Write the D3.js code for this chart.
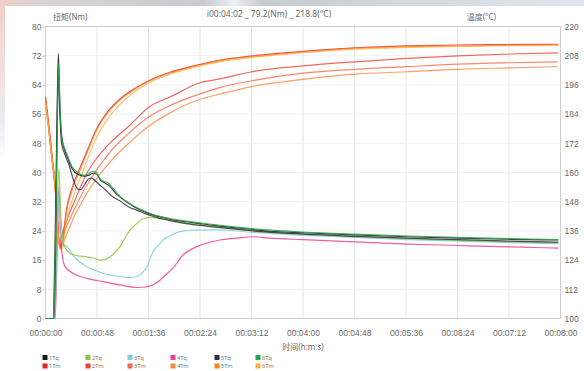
<!DOCTYPE html>
<html>
<head>
<meta charset="utf-8">
<script src="https://cdn.jsdelivr.net/npm/d3@7/dist/d3.min.js"></script>
<style>
  html, body { margin: 0; padding: 0; background: #fff; }
  svg { display: block; font-family: "Noto Sans", "Noto Sans CJK SC", sans-serif; }
</style>
</head>
<body>
<svg id="chart" width="584" height="371"></svg>
<script>
// Time axis (seconds) and tick labels
const timeTicks = [0, 48, 96, 144, 192, 240, 288, 336, 384, 432, 480];
const torqueTicks = [0, 8, 16, 24, 32, 40, 48, 56, 64, 72, 80];
const tempTicks = [100, 112, 124, 136, 148, 160, 172, 184, 196, 208, 220];

// Torque series, [seconds, Nm]
const tq1 = [[0,0],[7,0],[9,22],[11,60],[12,72.5],[13,62],[15,50],[18,46],[20,44.5],[25,41],[30,39.5],[36,39],[40,39.2],[44,39.8],[48,39.5],[51,38],[56,37],[60,36.2],[65,34.5],[69,33.4],[78,31.5],[85,30.2],[94,29],[100,28.4],[110,27.6],[116,27.2],[131,26.5],[144,26],[163,25.3],[193,24.4],[210,23.9],[240,23.5],[288,22.9],[337,22.4],[385,22],[433,21.7],[478,21.5]];
const tq2 = [[0,0],[8,0],[10,20],[12.5,41],[14,30],[16.3,21],[19,19],[22.8,17.9],[30,17.2],[38.7,16.9],[45,16.5],[50.8,16],[56,16.2],[60.1,16.9],[65,18.2],[69.4,19.7],[74,22],[78.8,24.2],[85,26],[90,27.2],[97,27.7],[110,27.2],[131,26.2],[163,25],[193,24.1],[240,23.2],[288,22.5],[337,21.9],[385,21.4],[433,21],[478,20.7]];
const tq3 = [[0,0],[8.5,0],[10.5,18],[12,34],[13.5,24],[16.3,20.5],[20,19.7],[28,16.5],[38.7,14.2],[46,13.2],[53.6,12.4],[60,11.9],[69.4,11.5],[78.8,11.2],[85.3,11.5],[90,12.5],[94.6,14.2],[100.2,18.3],[106,20.3],[109.5,21.5],[116,22.6],[125.3,23.8],[141,24.2],[160,24.3],[193,23.6],[240,22.8],[288,22.2],[337,21.6],[385,21.2],[433,20.8],[478,20.5]];
const tq4 = [[0,0],[9,0],[11,20],[12.6,36],[14,22],[18.2,14.2],[25.6,12.4],[38.7,11],[53.6,10.1],[69.4,9.2],[85.3,8.5],[94.6,8.7],[106.7,10.5],[112,12],[118.8,13.8],[128.2,17.4],[141.2,19.7],[162.6,21.5],[178.5,22],[193.4,22.4],[209,22],[240,21.6],[288,21],[337,20.4],[385,20],[433,19.6],[478,19.3]];
const tq5 = [[0,0],[8,0],[10,30],[11.8,68],[12.8,60],[15,48],[18,45],[22,42],[26,38],[30,35.5],[33,35.3],[36,36.5],[40,38.2],[43,38.5],[46,37.8],[51,36.5],[56,35.2],[62,33.5],[69,32.3],[78,30.5],[85,29.7],[94,28.6],[100,28],[116,26.8],[131,26],[144,25.5],[163,24.9],[193,24],[240,23.1],[288,22.5],[337,22],[385,21.6],[433,21.2],[478,20.9]];
const tq6 = [[0,0],[7.5,0],[9.5,25],[11.5,62],[12.3,70],[13.5,58],[15.5,49],[18,46.5],[20,45],[25,41.5],[30,40],[36,39.2],[40,39.6],[44,40.3],[47,40.2],[50,38.6],[54,37.6],[58,37.2],[62,36],[69,33.6],[78,31.6],[85,30.4],[94,29.2],[100,28.5],[110,27.8],[116,27.4],[131,26.7],[144,26.2],[163,25.5],[193,24.6],[240,23.7],[288,23.1],[337,22.6],[385,22.2],[433,21.9],[478,21.6]];

// Temperature series, [seconds, °C]
const tm1 = [[0,191],[3,180],[6.3,166],[9.5,152.5],[11,141.5],[13.5,129.5],[15.4,131],[19.8,145.5],[25,154],[32.2,162],[40,170.2],[47.7,178],[58,185],[69.4,190.2],[85,195],[100,198.5],[116,201.2],[140,204],[163,206.2],[192.5,207.9],[240,209.8],[288.5,211.2],[337,212],[384.5,212.4],[433,212.6],[478,212.7]];
const tm2 = [[0,190],[3,178.5],[6.3,165],[9.5,151.5],[11,140.5],[13.5,129.5],[15.4,134.3],[20,140.5],[27.5,148.7],[38.7,159.8],[48,166],[60.1,172.1],[78.8,179.5],[96.5,186.9],[116,191],[144,196.9],[163,198.5],[192.5,201.4],[240,203.8],[288.5,205.5],[337,206.9],[384.5,207.9],[433,208.7],[477.7,209.2]];
const tm3 = [[0,189.5],[3,178],[6.3,164.5],[9.5,151],[11,140],[13.5,129],[15.4,132.3],[27.5,145.4],[41.5,156.9],[60.1,168.4],[78.8,176.6],[96.5,182.9],[116,187.5],[144,192.3],[163,195],[192.5,197.7],[240,200.8],[288.5,202.4],[337,203.5],[384.5,204.5],[433,205.1],[477,205.5]];
const tm4 = [[0,189],[3,177.5],[6.3,164],[9.5,150.5],[11,139.5],[13.5,128.5],[15.4,130.2],[27.5,142.5],[41.5,153.6],[60.1,164.3],[78.8,172.5],[96.5,179.1],[116,184.5],[144,190.1],[163,192.3],[192.5,195.3],[240,198.3],[288.5,200.4],[337,201.4],[384.5,202.4],[433,203],[477,203.5]];
const tm5 = [[0,190.5],[3,179],[6.3,165.5],[9.5,152],[11,141],[13.5,129],[15.4,130],[19.8,144.6],[25,153],[32.2,161],[40,169.5],[47.7,177.5],[58,184.5],[69.4,189.8],[85,194.7],[100,198.2],[116,200.9],[140,203.8],[163,206],[192.5,207.6],[240,209.5],[288.5,211],[337,211.7],[384.5,212],[433,212.3],[478,212.4]];
const tm6 = [[0,189],[3,178],[6.3,165],[9.5,151],[11,140],[13.5,128.5],[16,129],[20,141],[25,149],[32.2,157.5],[40,166.5],[47.7,174.5],[58,182],[69.4,188],[85,193.8],[100,197.6],[116,200.4],[140,203.4],[163,205.6],[192.5,207.3],[240,209.3],[288.5,210.7],[337,211.4],[384.5,211.8],[433,212.1],[478,212.3]];

const torqueNames = ["1Tq", "2Tq", "3Tq", "4Tq", "5Tq", "6Tq"];
const torqueColors = ["#1a1a1a", "#8cc63f", "#7fd0dc", "#ec3f95", "#3a2a48", "#22a845"];
const tempNames = ["1Tm", "2Tm", "3Tm", "4Tm", "5Tm", "6Tm"];
const tempColors = ["#ee1c25", "#ef4136", "#f26a4f", "#f58a3c", "#f7851f", "#fbb040"];

const torqueData = [tq1, tq2, tq3, tq4, tq5, tq6];
const tempData = [tm1, tm2, tm3, tm4, tm5, tm6];

(function draw() {
  const svg = d3.select("#chart");
  const W = 584, H = 371;
  const pL = 45.5, pR = 560.5, pT = 26.5, pB = 318.5;

  // backdrop behind the chart panel
  const defs = svg.append("defs");
  const topGrad = defs.append("linearGradient").attr("id", "topband").attr("x1", 0).attr("x2", 1).attr("y1", 0).attr("y2", 0);
  [[0, "#efcfc8"], [0.08, "#d9d3d4"], [0.35, "#c9cbd0"], [0.40, "#eef0f2"], [0.45, "#c7cacf"], [0.7, "#d3d9e0"], [1, "#dde6ee"]]
    .forEach(([o, c]) => topGrad.append("stop").attr("offset", o).attr("stop-color", c));
  const leftGrad = defs.append("linearGradient").attr("id", "leftband").attr("x1", 0).attr("x2", 0).attr("y1", 0).attr("y2", 1);
  [[0, "#f0cfc8"], [0.5, "#f3e2e0"], [0.75, "#e9ecf1"], [1, "#ffffff"]]
    .forEach(([o, c]) => leftGrad.append("stop").attr("offset", o).attr("stop-color", c));

  svg.append("rect").attr("width", W).attr("height", H).attr("fill", "#fff");
  svg.append("rect").attr("x", 0).attr("y", 0).attr("width", W).attr("height", 6).attr("fill", "url(#topband)");
  svg.append("rect").attr("x", 0).attr("y", 0).attr("width", 5).attr("height", 160).attr("fill", "url(#leftband)");

  const x = d3.scaleLinear().domain([0, 480]).range([pL, pR]);
  const yL = d3.scaleLinear().domain([0, 80]).range([pB, pT]);
  const yR = d3.scaleLinear().domain([100, 220]).range([pB, pT]);

  const fmtTime = s => {
    const h = Math.floor(s / 3600), m = Math.floor((s % 3600) / 60), sec = s % 60;
    return [h, m, sec].map(v => String(v).padStart(2, "0")).join(":");
  };

  // grid
  const grid = svg.append("g");
  grid.selectAll("line.v").data(timeTicks.slice(1, -1)).join("line")
    .attr("x1", d => x(d)).attr("x2", d => x(d)).attr("y1", pT).attr("y2", pB)
    .attr("stroke", "#e6e6e6").attr("stroke-width", 1);
  grid.selectAll("line.h").data(torqueTicks.slice(1, -1)).join("line")
    .attr("x1", pL).attr("x2", pR).attr("y1", d => yL(d)).attr("y2", d => yL(d))
    .attr("stroke", "#f1f1f1").attr("stroke-width", 1);

  // plot frame
  svg.append("rect").attr("x", pL).attr("y", pT).attr("width", pR - pL).attr("height", pB - pT)
    .attr("fill", "none").attr("stroke", "#cfcfcf").attr("stroke-width", 1);

  // axes
  const styleAxis = g => {
    g.select(".domain").remove();
    g.selectAll(".tick line").attr("stroke", "#c8c8c8");
    g.selectAll(".tick text").attr("fill", "#6a6a6a").style("font-size", "8.5px");
  };
  svg.append("g").attr("transform", `translate(${pL},0)`)
    .call(d3.axisLeft(yL).tickValues(torqueTicks).tickSize(3).tickPadding(1))
    .call(styleAxis);
  svg.append("g").attr("transform", `translate(${pR},0)`)
    .call(d3.axisRight(yR).tickValues(tempTicks).tickSize(0).tickPadding(4))
    .call(styleAxis);
  svg.append("g").attr("transform", `translate(0,${pB})`)
    .call(d3.axisBottom(x).tickValues(timeTicks).tickFormat(fmtTime).tickSize(0).tickPadding(11))
    .call(styleAxis);

  // series
  const lineL = d3.line().x(d => x(d[0])).y(d => yL(d[1])).curve(d3.curveMonotoneX);
  const lineR = d3.line().x(d => x(d[0])).y(d => yR(d[1])).curve(d3.curveMonotoneX);
  const series = svg.append("g");
  [1, 2, 3, 0, 4, 5].forEach(i => {
    series.append("path").datum(tempData[i]).attr("d", lineR)
      .attr("fill", "none").attr("stroke", tempColors[i]).attr("stroke-width", 1.2).attr("stroke-opacity", 0.8);
  });
  [3, 2, 1, 4, 0, 5].forEach(i => {
    series.append("path").datum(torqueData[i]).attr("d", lineL)
      .attr("fill", "none").attr("stroke", torqueColors[i]).attr("stroke-width", 1.2).attr("stroke-opacity", 0.85);
  });

  // titles
  const label = (t, xx, yy, anchor, size) => svg.append("text").attr("x", xx).attr("y", yy)
    .attr("text-anchor", anchor).attr("fill", "#6a6a6a").style("font-size", size + "px").text(t);
  label("扭矩(Nm)", 53, 20, "start", 8);
  label("温度(°C)", 496, 20, "end", 8);
  label("i00:04:02 _ 79.2(Nm) _ 218.8(°C)", 269, 17, "middle", 8.5);
  label("时间(h:m:s)", 303, 350, "middle", 8);

  // legend
  const legendX = [45, 88, 130, 173, 217, 258];
  const legend = svg.append("g");
  [[torqueNames, torqueColors, 357.5], [tempNames, tempColors, 366]].forEach(([names, cols, yy]) => {
    names.forEach((n, i) => {
      legend.append("rect").attr("x", legendX[i] - 2.5).attr("y", yy - 2.5).attr("width", 5).attr("height", 5).attr("fill", cols[i]);
      legend.append("text").attr("x", legendX[i] + 4).attr("y", yy + 2).attr("fill", "#777")
        .style("font-size", "5.8px").text(n);
    });
  });
})();
</script>
</body>
</html>
